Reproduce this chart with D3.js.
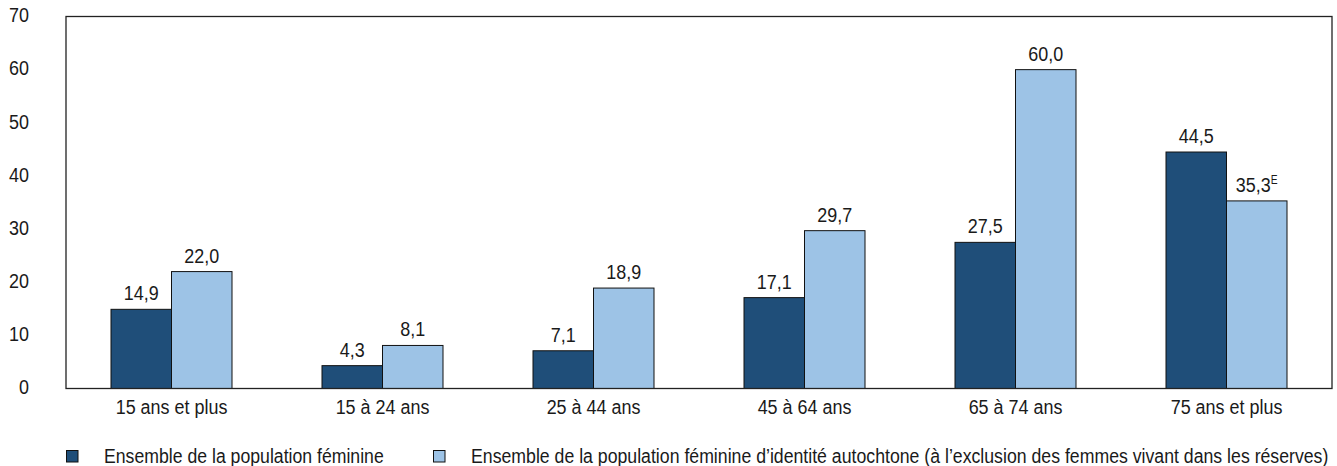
<!DOCTYPE html>
<html>
<head>
<meta charset="utf-8">
<script src="https://cdn.jsdelivr.net/npm/d3@7"></script>
<style>
  body { margin: 0; background: #fff; }
  svg text { font-family: "Liberation Sans", Arial, sans-serif; fill: #1a1a1a; }
</style>
</head>
<body>
<svg id="chart" width="1337" height="466"></svg>
<script>
// Age groups and the two female population series (percent)
const categories = ["15 ans et plus", "15 à 24 ans", "25 à 44 ans", "45 à 64 ans", "65 à 74 ans", "75 ans et plus"];
const allWomen = [14.9, 4.3, 7.1, 17.1, 27.5, 44.5];
const indigenousWomen = [22.0, 8.1, 18.9, 29.7, 60.0, 35.3];
const indigenousFlags = ["", "", "", "", "", "E"];
const seriesNames = [
  "Ensemble de la population féminine",
  "Ensemble de la population féminine d’identité autochtone (à l’exclusion des femmes vivant dans les réserves)"
];
const yTicks = [0, 10, 20, 30, 40, 50, 60, 70];

const colors = ["#1f4e79", "#9dc3e6"];
const FONT = 21;        // condensed look: regular sans squeezed horizontally
const SQUEEZE = 0.855;
const svg = d3.select("#chart");
const plotLeft = 66, plotRight = 1332, plotTop = 16.5, plotBottom = 388.5;

// Narrow a text element horizontally around its own anchor point
function squeeze(sel, factor) {
  sel.each(function () {
    const f = factor || SQUEEZE;
    const xa = +(this.getAttribute("x") || 0);
    this.setAttribute("transform", `translate(${xa},0) scale(${f},1) translate(${-xa},0)`);
  });
}

const x = d3.scaleBand().domain(categories).range([plotLeft, plotRight]).paddingInner(0).paddingOuter(0);
const y = d3.scaleLinear().domain([0, 70]).range([plotBottom, plotTop]);
const barW = 60.5;

const series = [
  { name: seriesNames[0], values: allWomen, flags: categories.map(() => "") },
  { name: seriesNames[1], values: indigenousWomen, flags: indigenousFlags }
];

// Y axis labels (no tick marks)
const yAxis = d3.axisLeft(y).tickValues(yTicks).tickSize(0).tickPadding(37).tickFormat(d3.format("d"));
const yg = svg.append("g").attr("transform", `translate(${plotLeft},0)`).call(yAxis);
yg.select(".domain").remove();
yg.selectAll("text").style("font-size", FONT + "px").attr("fill", "#1a1a1a").attr("dy", "0.25em").call(squeeze);

// Bars
series.forEach((s, si) => {
  const g = svg.append("g");
  g.selectAll("rect").data(categories).join("rect")
    .attr("x", (c) => x(c) + x.bandwidth() / 2 + (si - 1) * barW)
    .attr("y", (c, i) => y(s.values[i]))
    .attr("width", barW)
    .attr("height", (c, i) => y(0) - y(s.values[i]))
    .attr("fill", colors[si])
    .attr("stroke", "#111")
    .attr("stroke-width", 1);

  const labels = g.selectAll("text").data(categories).join("text")
    .attr("x", (c) => x(c) + x.bandwidth() / 2 + (si - 0.5) * barW)
    .attr("y", (c, i) => y(s.values[i]) - 9)
    .attr("text-anchor", "middle")
    .style("font-size", FONT + "px");
  labels.append("tspan").text((c, i) => s.values[i].toFixed(1).replace(".", ","));
  labels.append("tspan")
    .attr("dy", "-8")
    .style("font-size", "12px")
    .text((c, i) => s.flags[i]);
  labels.call(squeeze);
});

// Plot frame
svg.append("rect")
  .attr("x", plotLeft).attr("y", plotTop)
  .attr("width", plotRight - plotLeft).attr("height", plotBottom - plotTop)
  .attr("fill", "none").attr("stroke", "#222").attr("stroke-width", 1.3);

// Category axis
const xAxis = d3.axisBottom(x).tickSize(0).tickPadding(11);
const xg = svg.append("g").attr("transform", `translate(0,${plotBottom})`).call(xAxis);
xg.select(".domain").remove();
xg.selectAll("text").style("font-size", FONT + "px").attr("fill", "#1a1a1a").call(squeeze);

// Legend: swatches and labels, labels narrowed to their target widths
const legendX = [66, 433];
const legendTextW = [280, 858];
const legend = svg.append("g");
series.forEach((s, si) => {
  legend.append("rect")
    .attr("x", legendX[si] + 0.5).attr("y", 450.5)
    .attr("width", 11.5).attr("height", 11.5)
    .attr("fill", colors[si]).attr("stroke", "#111").attr("stroke-width", 1);
  const t = legend.append("text")
    .attr("x", legendX[si] + 38).attr("y", 463)
    .style("font-size", FONT + "px")
    .text(s.name);
  const natural = t.node().getComputedTextLength();
  t.call(squeeze, legendTextW[si] / natural);
});
</script>
</body>
</html>
